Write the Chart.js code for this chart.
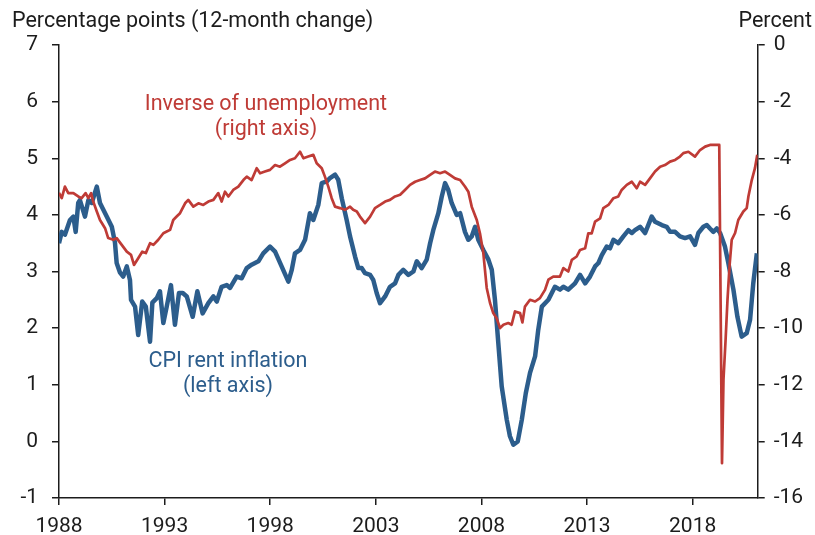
<!DOCTYPE html>
<html>
<head>
<meta charset="utf-8">
<script src="https://cdn.jsdelivr.net/npm/chart.js@4.4.1/dist/chart.umd.min.js"></script>
<style>
  html, body { margin: 0; padding: 0; background: #fff; }
  #wrap { width: 815px; height: 535px; }
</style>
</head>
<body>
<div id="wrap"><canvas id="chart" width="815" height="535"></canvas></div>
<script>
// CPI rent inflation, 12-month change (left axis)
const rentYears = [1988.00, 1988.13, 1988.28, 1988.52, 1988.68, 1988.79, 1988.91, 1988.99, 1989.23, 1989.39,
  1989.55, 1989.79, 1989.94, 1990.10, 1990.26, 1990.50, 1990.65, 1990.73, 1990.89, 1991.04,
  1991.21, 1991.36, 1991.41, 1991.60, 1991.75, 1991.94, 1992.11, 1992.31, 1992.42, 1992.63,
  1992.78, 1992.94, 1993.10, 1993.30, 1993.49, 1993.68, 1993.86, 1994.05, 1994.33, 1994.55,
  1994.80, 1995.07, 1995.31, 1995.47, 1995.70, 1995.94, 1996.10, 1996.41, 1996.65, 1996.89,
  1997.12, 1997.44, 1997.67, 1997.99, 1998.23, 1998.54, 1998.86, 1999.02, 1999.17, 1999.41,
  1999.65, 1999.88, 2000.04, 2000.28, 2000.44, 2000.68, 2000.83, 2001.07, 2001.22, 2001.39,
  2001.62, 2001.78, 2002.02, 2002.17, 2002.33, 2002.49, 2002.73, 2002.88, 2003.04, 2003.20,
  2003.44, 2003.67, 2003.91, 2004.07, 2004.30, 2004.54, 2004.78, 2004.94, 2005.17, 2005.41,
  2005.57, 2005.72, 2005.96, 2006.12, 2006.28, 2006.43, 2006.59, 2006.83, 2006.99, 2007.22,
  2007.38, 2007.54, 2007.70, 2007.85, 2008.09, 2008.33, 2008.49, 2008.64, 2008.80, 2008.96,
  2009.20, 2009.35, 2009.51, 2009.72, 2009.91, 2010.10, 2010.30, 2010.54, 2010.69, 2010.86,
  2011.17, 2011.48, 2011.72, 2011.88, 2012.11, 2012.43, 2012.67, 2012.91, 2013.14, 2013.38,
  2013.54, 2013.70, 2013.93, 2014.09, 2014.25, 2014.48, 2014.72, 2014.96, 2015.12, 2015.27,
  2015.51, 2015.75, 2016.06, 2016.22, 2016.54, 2016.77, 2016.93, 2017.17, 2017.40, 2017.64,
  2017.88, 2018.11, 2018.27, 2018.51, 2018.67, 2018.82, 2018.98, 2019.14, 2019.30, 2019.53,
  2019.69, 2019.93, 2020.12, 2020.32, 2020.56, 2020.72, 2020.87, 2021.04];
const rentValues = [3.50, 3.70, 3.65, 3.91, 3.97, 3.70, 4.21, 4.26, 3.97, 4.26,
  4.21, 4.50, 4.21, 4.09, 3.97, 3.79, 3.51, 3.15, 2.98, 2.91,
  3.09, 2.85, 2.50, 2.38, 1.88, 2.47, 2.38, 1.76, 2.45, 2.53,
  2.65, 2.09, 2.38, 2.76, 2.06, 2.62, 2.62, 2.56, 2.20, 2.65,
  2.26, 2.44, 2.56, 2.47, 2.73, 2.76, 2.71, 2.91, 2.88, 3.06,
  3.12, 3.18, 3.32, 3.44, 3.35, 3.09, 2.82, 3.03, 3.32, 3.38,
  3.56, 4.03, 3.91, 4.18, 4.56, 4.59, 4.65, 4.71, 4.62, 4.29,
  3.91, 3.62, 3.26, 3.06, 3.06, 2.97, 2.94, 2.85, 2.62, 2.44,
  2.56, 2.73, 2.79, 2.94, 3.03, 2.94, 3.00, 3.18, 3.06, 3.21,
  3.50, 3.73, 4.03, 4.32, 4.56, 4.44, 4.21, 4.00, 4.03, 3.70,
  3.56, 3.62, 3.79, 3.56, 3.38, 3.21, 3.03, 2.50, 1.73, 0.97,
  0.38, 0.09, -0.06, 0.00, 0.38, 0.85, 1.21, 1.50, 1.97, 2.38,
  2.50, 2.73, 2.68, 2.73, 2.68, 2.79, 2.94, 2.79, 2.91, 3.09,
  3.15, 3.29, 3.44, 3.41, 3.56, 3.50, 3.62, 3.73, 3.68, 3.73,
  3.79, 3.68, 3.97, 3.88, 3.82, 3.79, 3.70, 3.70, 3.62, 3.59,
  3.62, 3.47, 3.68, 3.79, 3.82, 3.76, 3.70, 3.76, 3.68, 3.44,
  3.15, 2.68, 2.20, 1.85, 1.91, 2.15, 2.79, 3.32];

// Inverse of unemployment (right axis)
const unempYears = [1988.00, 1988.13, 1988.28, 1988.44, 1988.68, 1988.91, 1989.07, 1989.26, 1989.39, 1989.52,
  1989.62, 1989.79, 1989.94, 1990.18, 1990.33, 1990.57, 1990.73, 1990.97, 1991.21, 1991.41,
  1991.55, 1991.75, 1991.94, 1992.11, 1992.31, 1992.47, 1992.70, 1992.94, 1993.10, 1993.26,
  1993.41, 1993.57, 1993.73, 1993.97, 1994.12, 1994.36, 1994.60, 1994.83, 1995.07, 1995.31,
  1995.54, 1995.70, 1995.86, 1996.02, 1996.25, 1996.49, 1996.73, 1996.89, 1997.12, 1997.36,
  1997.52, 1997.75, 1997.99, 1998.23, 1998.46, 1998.70, 1998.94, 1999.17, 1999.41, 1999.57,
  1999.80, 2000.04, 2000.20, 2000.44, 2000.59, 2000.75, 2000.91, 2001.07, 2001.30, 2001.54,
  2001.78, 2001.93, 2002.10, 2002.25, 2002.49, 2002.73, 2002.96, 2003.20, 2003.44, 2003.67,
  2003.91, 2004.15, 2004.38, 2004.62, 2004.86, 2005.09, 2005.33, 2005.57, 2005.80, 2006.04,
  2006.28, 2006.51, 2006.75, 2006.99, 2007.22, 2007.38, 2007.54, 2007.78, 2007.93, 2008.09,
  2008.25, 2008.41, 2008.56, 2008.72, 2008.88, 2009.04, 2009.27, 2009.43, 2009.59, 2009.83,
  2009.94, 2010.06, 2010.30, 2010.54, 2010.77, 2011.01, 2011.17, 2011.40, 2011.72, 2011.88,
  2012.11, 2012.28, 2012.51, 2012.67, 2012.91, 2013.06, 2013.22, 2013.38, 2013.62, 2013.77,
  2014.01, 2014.25, 2014.48, 2014.64, 2014.88, 2015.12, 2015.35, 2015.51, 2015.75, 2015.98,
  2016.22, 2016.46, 2016.69, 2016.93, 2017.17, 2017.40, 2017.56, 2017.80, 2018.11, 2018.35,
  2018.59, 2018.82, 2019.06, 2019.26, 2019.39, 2019.46, 2019.56, 2019.65, 2019.75, 2019.85,
  2020.01, 2020.16, 2020.40, 2020.56, 2020.64, 2020.80, 2020.95, 2021.06];
const unempValues = [-5.22, -5.41, -5.00, -5.23, -5.23, -5.35, -5.41, -5.23, -5.41, -5.23,
  -5.53, -5.88, -6.18, -6.47, -6.82, -6.88, -6.82, -7.06, -7.30, -7.41,
  -7.77, -7.53, -7.30, -7.35, -7.00, -7.06, -6.88, -6.65, -6.59, -6.53,
  -6.18, -6.06, -5.94, -5.59, -5.47, -5.71, -5.59, -5.65, -5.53, -5.47,
  -5.23, -5.53, -5.18, -5.35, -5.12, -5.00, -4.77, -4.65, -4.77, -4.35,
  -4.53, -4.47, -4.41, -4.24, -4.30, -4.18, -4.06, -4.00, -3.77, -4.00,
  -3.94, -3.88, -4.18, -4.35, -4.65, -5.00, -5.41, -5.71, -5.76, -5.82,
  -5.71, -5.82, -5.88, -6.06, -6.29, -6.06, -5.76, -5.65, -5.53, -5.47,
  -5.35, -5.29, -5.12, -4.94, -4.83, -4.77, -4.71, -4.59, -4.47, -4.53,
  -4.47, -4.59, -4.71, -4.77, -5.00, -5.18, -5.71, -6.18, -6.65, -7.35,
  -8.58, -9.12, -9.47, -9.65, -10.00, -9.88, -9.82, -9.88, -9.41, -9.47,
  -9.80, -9.24, -9.00, -9.06, -8.94, -8.65, -8.29, -8.18, -8.18, -7.88,
  -8.00, -7.59, -7.47, -7.24, -7.18, -6.65, -6.65, -6.24, -6.12, -5.76,
  -5.65, -5.41, -5.35, -5.12, -4.94, -4.83, -5.06, -4.83, -4.94, -4.71,
  -4.47, -4.30, -4.24, -4.12, -4.06, -3.94, -3.82, -3.77, -3.94, -3.71,
  -3.59, -3.53, -3.53, -3.53, -14.77, -11.82, -10.41, -9.00, -7.77, -6.88,
  -6.64, -6.18, -5.88, -5.76, -5.35, -4.77, -4.35, -3.88];

const xTicks = [1988, 1993, 1998, 2003, 2008, 2013, 2018];
const leftTitle = 'Percentage points (12-month change)';
const rightTitle = 'Percent';
const redLabel = ['Inverse of unemployment', '(right axis)'];
const blueLabel = ['CPI rent inflation', '(left axis)'];

const BLUE = '#2c5d8c';
const RED = '#bf3b36';
const INK = '#1c1c1c';
const FONT = 'Roboto, "Liberation Sans", sans-serif';

const toPoints = (xs, ys) => xs.map((x, i) => ({ x: x, y: ys[i] }));

const textPlugin = {
    id: 'texts',
    afterDraw(chart) {
        const ctx = chart.ctx;
        ctx.save();
        ctx.font = '21.5px ' + FONT;
        ctx.fillStyle = INK;
        ctx.textBaseline = 'middle';
        ctx.textAlign = 'left';
        ctx.fillText(leftTitle, 12, 22);
        ctx.textAlign = 'right';
        ctx.fillText(rightTitle, 812, 22);

        ctx.textAlign = 'center';
        ctx.fillStyle = RED;
        redLabel.forEach((t, i) => ctx.fillText(t, 266, 105 + i * 25));
        ctx.fillStyle = BLUE;
        blueLabel.forEach((t, i) => ctx.fillText(t, 228, 362 + i * 25));
        ctx.restore();
    }
};

const tickFont = { family: FONT, size: 21 };
const axisGrid = { drawOnChartArea: false, drawTicks: true, tickLength: 7, color: INK, lineWidth: 1.5 };
const axisBorder = { display: true, color: INK, width: 1.5 };

new Chart(document.getElementById('chart').getContext('2d'), {
    type: 'line',
    data: {
        datasets: [
            {
                label: 'Inverse of unemployment',
                data: toPoints(unempYears, unempValues),
                yAxisID: 'y1',
                borderColor: RED,
                borderWidth: 2.7,
                borderJoinStyle: 'round',
                pointRadius: 0,
                tension: 0,
                order: 0
            },
            {
                label: 'CPI rent inflation',
                data: toPoints(rentYears, rentValues),
                yAxisID: 'y',
                borderColor: BLUE,
                borderWidth: 4.5,
                borderJoinStyle: 'round',
                pointRadius: 0,
                tension: 0,
                order: 1
            }
        ]
    },
    options: {
        responsive: false,
        animation: false,
        layout: { padding: { top: 45, left: 0, right: 0, bottom: 0 } },
        plugins: { legend: { display: false }, tooltip: { enabled: false } },
        scales: {
            x: {
                type: 'linear',
                min: 1988,
                max: 2021.08,
                afterBuildTicks: s => { s.ticks = xTicks.map(v => ({ value: v })); },
                afterFit: s => { s.height = 37; },
                ticks: { callback: v => String(v), font: tickFont, color: INK, padding: 9, maxRotation: 0, autoSkip: false },
                grid: axisGrid,
                border: axisBorder
            },
            y: {
                position: 'left',
                min: -1,
                max: 7,
                afterFit: s => { s.width = 59; },
                ticks: { stepSize: 1, callback: v => String(v), font: tickFont, color: INK, padding: 14 },
                grid: axisGrid,
                border: axisBorder
            },
            y1: {
                position: 'right',
                min: -16,
                max: 0,
                afterFit: s => { s.width = 57.3; },
                ticks: { stepSize: 2, callback: v => String(v), font: tickFont, color: INK, padding: 9 },
                grid: axisGrid,
                border: axisBorder
            }
        }
    },
    plugins: [textPlugin]
});
</script>
</body>
</html>
